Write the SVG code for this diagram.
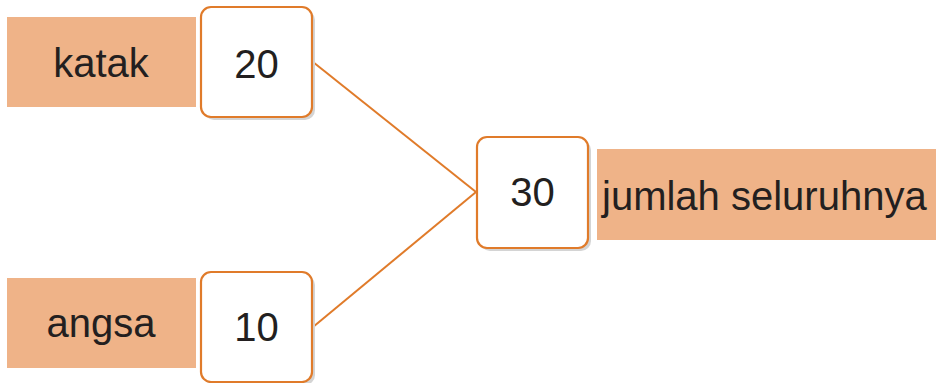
<svg xmlns="http://www.w3.org/2000/svg" width="936" height="383" viewBox="0 0 936 383">
<style>
.label{fill:#EFB388}
.box{fill:#fff;stroke:#E07B2A;stroke-width:2.2}
.shadow{fill:#d4d4d4}
text{font-family:"Liberation Sans",Arial,sans-serif;font-size:40px;fill:#231f20}
.c{text-anchor:middle}
.conn line{stroke:#E07B2A;stroke-width:2}
</style>
<rect width="936" height="383" fill="#fff"/>
<g class="conn">
<line x1="313" y1="62" x2="476" y2="192"/>
<line x1="313" y1="327" x2="476" y2="192"/>
</g>
<g id="katak">
<rect class="label" x="7" y="17" width="189" height="90"/>
<text class="c" x="101" y="77">katak</text>
</g>
<g id="n20">
<rect class="shadow" x="204" y="10" width="111" height="110" rx="10"/>
<rect class="box" x="201" y="7" width="111" height="110" rx="10"/>
<text class="c" x="256.5" y="78">20</text>
</g>
<g id="angsa">
<rect class="label" x="7" y="278" width="189" height="90"/>
<text class="c" x="101" y="337">angsa</text>
</g>
<g id="n10">
<rect class="shadow" x="204" y="275" width="111" height="110" rx="10"/>
<rect class="box" x="201" y="272" width="111" height="110" rx="10"/>
<text class="c" x="256.5" y="341">10</text>
</g>
<g id="n30">
<rect class="shadow" x="480" y="140" width="111" height="111" rx="10"/>
<rect class="box" x="477" y="137" width="111" height="111" rx="10"/>
<text class="c" x="532.5" y="206">30</text>
</g>
<g id="jumlah">
<rect class="label" x="597" y="149" width="339" height="91"/>
<text x="602" y="210">jumlah seluruhnya</text>
</g>
</svg>
